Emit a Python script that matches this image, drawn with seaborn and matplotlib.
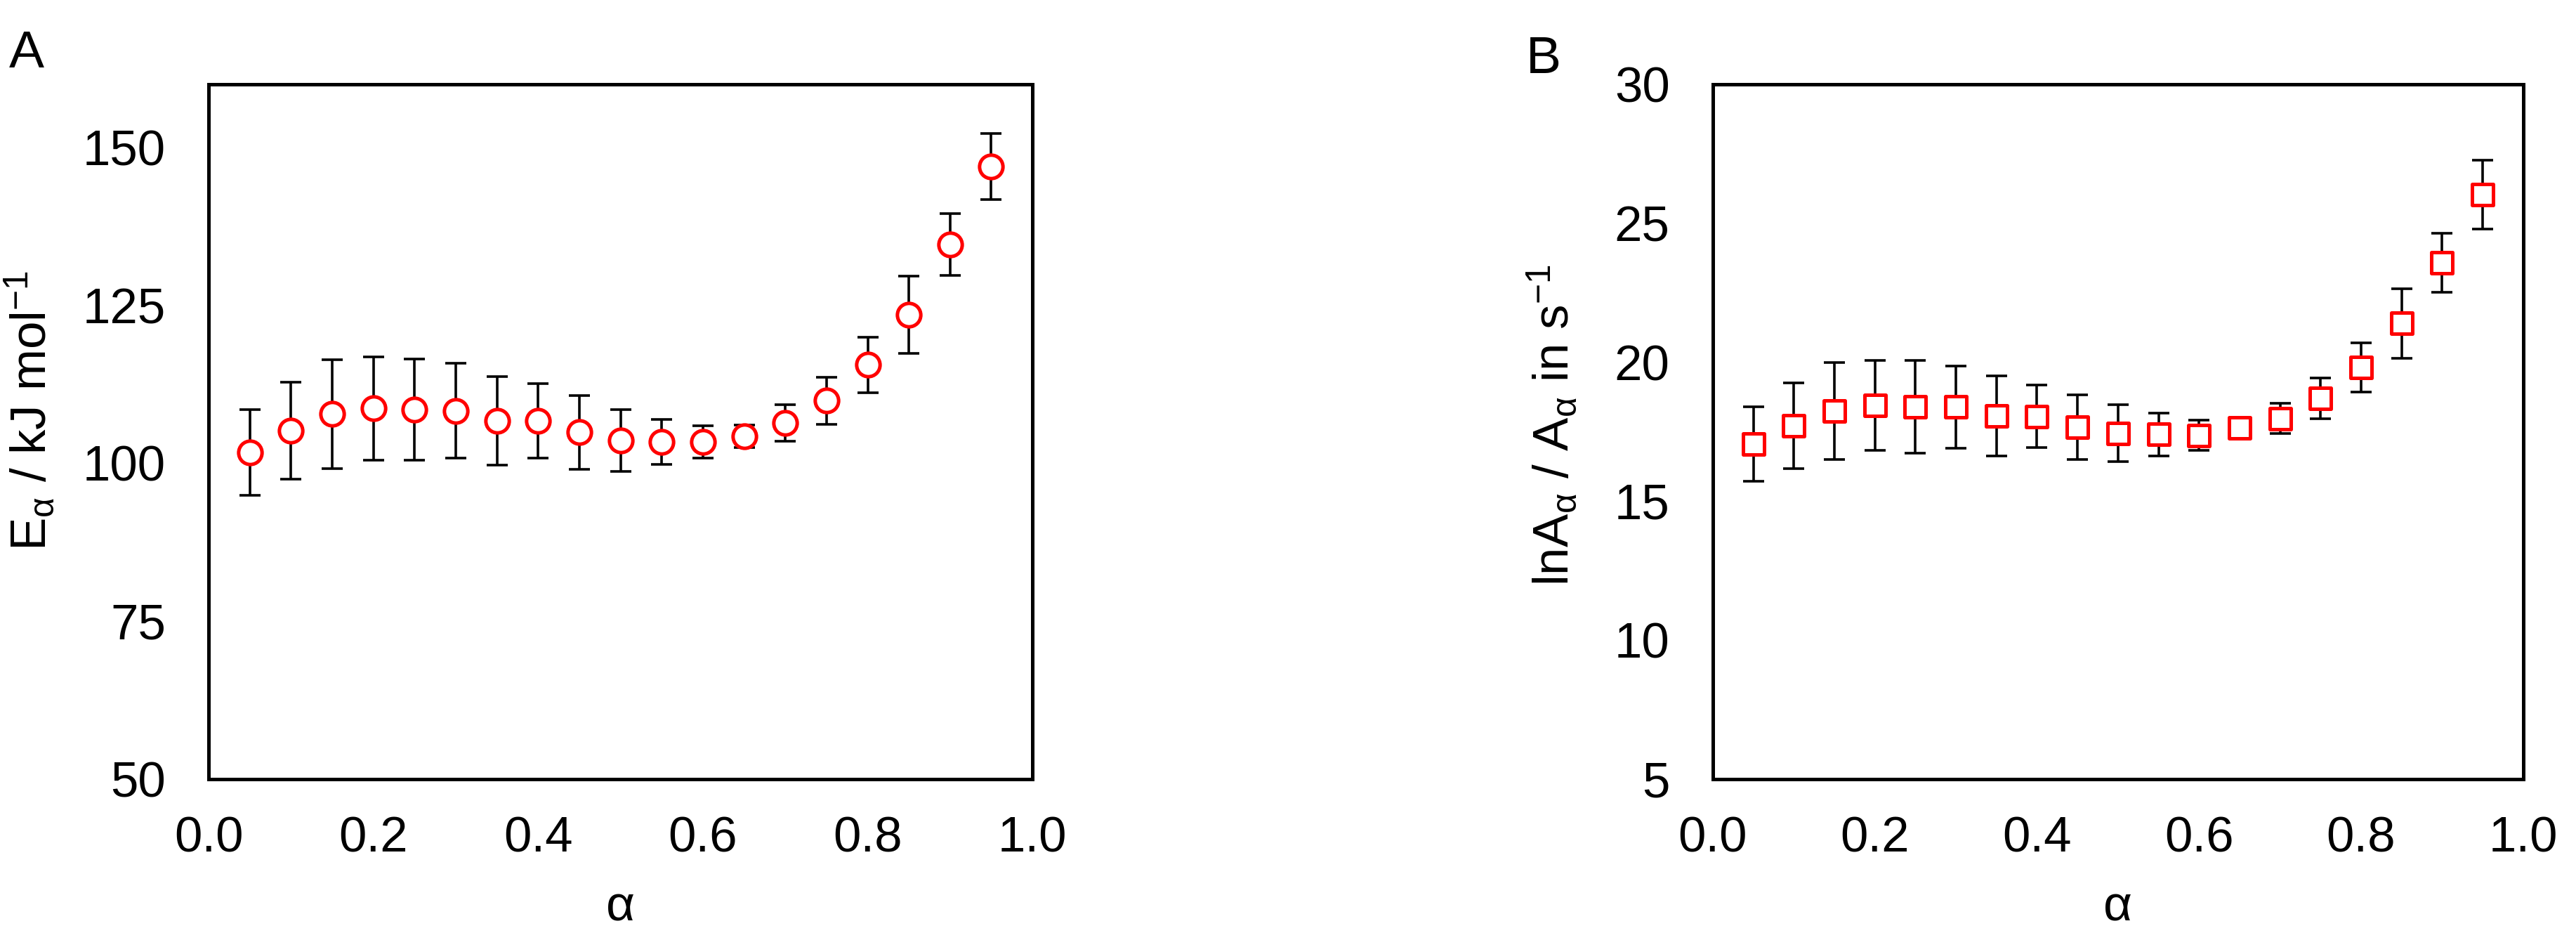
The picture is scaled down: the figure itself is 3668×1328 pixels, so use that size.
import matplotlib
matplotlib.use('Agg')
import matplotlib.pyplot as plt
import seaborn as sns
import pandas as pd

# ── Data ──────────────────────────────────────────────
alpha = [0.05, 0.10, 0.15, 0.20, 0.25, 0.30, 0.35, 0.40, 0.45, 0.50,
         0.55, 0.60, 0.65, 0.70, 0.75, 0.80, 0.85, 0.90, 0.95]

e_alpha = [101.7, 105.2, 107.8, 108.7, 108.5, 108.3, 106.7, 106.7, 104.9, 103.6,
           103.4, 103.4, 104.3, 106.4, 109.9, 115.6, 123.5, 134.6, 147.0]
e_err = [6.8, 7.7, 8.6, 8.2, 8.0, 7.5, 7.0, 5.9, 5.8, 4.9,
         3.6, 2.6, 1.8, 2.9, 3.7, 4.4, 6.1, 4.9, 5.2]

lna = [17.05, 17.72, 18.25, 18.44, 18.40, 18.39, 18.07, 18.05, 17.66, 17.45,
       17.40, 17.37, 17.64, 17.98, 18.71, 19.81, 21.40, 23.58, 26.03]
lna_err = [1.34, 1.55, 1.75, 1.62, 1.66, 1.48, 1.44, 1.13, 1.16, 1.03,
           0.78, 0.55, 0.30, 0.54, 0.73, 0.88, 1.25, 1.05, 1.24]

x_ticks = [0.0, 0.2, 0.4, 0.6, 0.8, 1.0]
e_ticks = [50, 75, 100, 125, 150]
lna_ticks = [5, 10, 15, 20, 25, 30]

df = pd.DataFrame({'alpha': alpha, 'E': e_alpha, 'E_err': e_err,
                   'lnA': lna, 'lnA_err': lna_err})

# ── Style ──────────────────────────────────────────────
sns.set_theme(style='white')
plt.rcParams['font.family'] = ['Liberation Sans', 'DejaVu Sans']
plt.rcParams['mathtext.default'] = 'regular'
plt.rcParams['text.color'] = 'black'
plt.rcParams['axes.labelcolor'] = 'black'
FS = 51

fig = plt.figure(figsize=(36.68, 13.28), dpi=100)
ax1 = fig.add_axes([0.0810, 0.1649, 0.3198, 0.7447])
ax2 = fig.add_axes([0.6649, 0.1649, 0.3146, 0.7447])


def draw_panel(ax, ycol, errcol, marker, ms, ylim, yticks, ylabel, ylab_pos):
    ax.errorbar(df['alpha'], df[ycol], yerr=df[errcol], fmt='none',
                ecolor='black', elinewidth=2.6, capsize=11, capthick=2.6, zorder=2)
    sns.scatterplot(data=df, x='alpha', y=ycol, ax=ax, marker=marker, s=ms ** 2,
                    facecolor='white', edgecolor='red', linewidth=3.6, zorder=3,
                    legend=False)
    ax.set_xlim(0, 1)
    ax.set_ylim(*ylim)
    ax.set_xticks(x_ticks)
    ax.set_xticklabels([f'{t:.1f}' for t in x_ticks])
    ax.set_yticks(yticks)
    ax.tick_params(axis='both', direction='in', length=16, width=3.6,
                   labelsize=FS, color='black', labelcolor='black')
    ax.tick_params(axis='x', pad=38)
    ax.tick_params(axis='y', pad=44)
    for sp in ax.spines.values():
        sp.set_linewidth(3.6)
        sp.set_color('black')
    ax.set_xlabel('α', fontsize=FS)
    ax.set_ylabel(ylabel, fontsize=FS)
    ax.xaxis.set_label_coords(0.5, -0.152)
    ax.yaxis.set_label_coords(*ylab_pos)


draw_panel(ax1, 'E', 'E_err', 'o', 24, (50, 160), e_ticks,
           r'E$_{α}$ / kJ mol$^{-1}$', (-0.185, 0.53))
draw_panel(ax2, 'lnA', 'lnA_err', 's', 22, (5, 30), lna_ticks,
           r'lnA$_{α}$ / A$_{α}$ in s$^{-1}$', (-0.165, 0.51))

fig.text(0.0035, 0.968, 'A', fontsize=FS + 3, va='top', ha='left')
fig.text(0.5924, 0.962, 'B', fontsize=FS + 3, va='top', ha='left')

plt.savefig('out.png', dpi=100, facecolor='white')
print("saved out.png")
